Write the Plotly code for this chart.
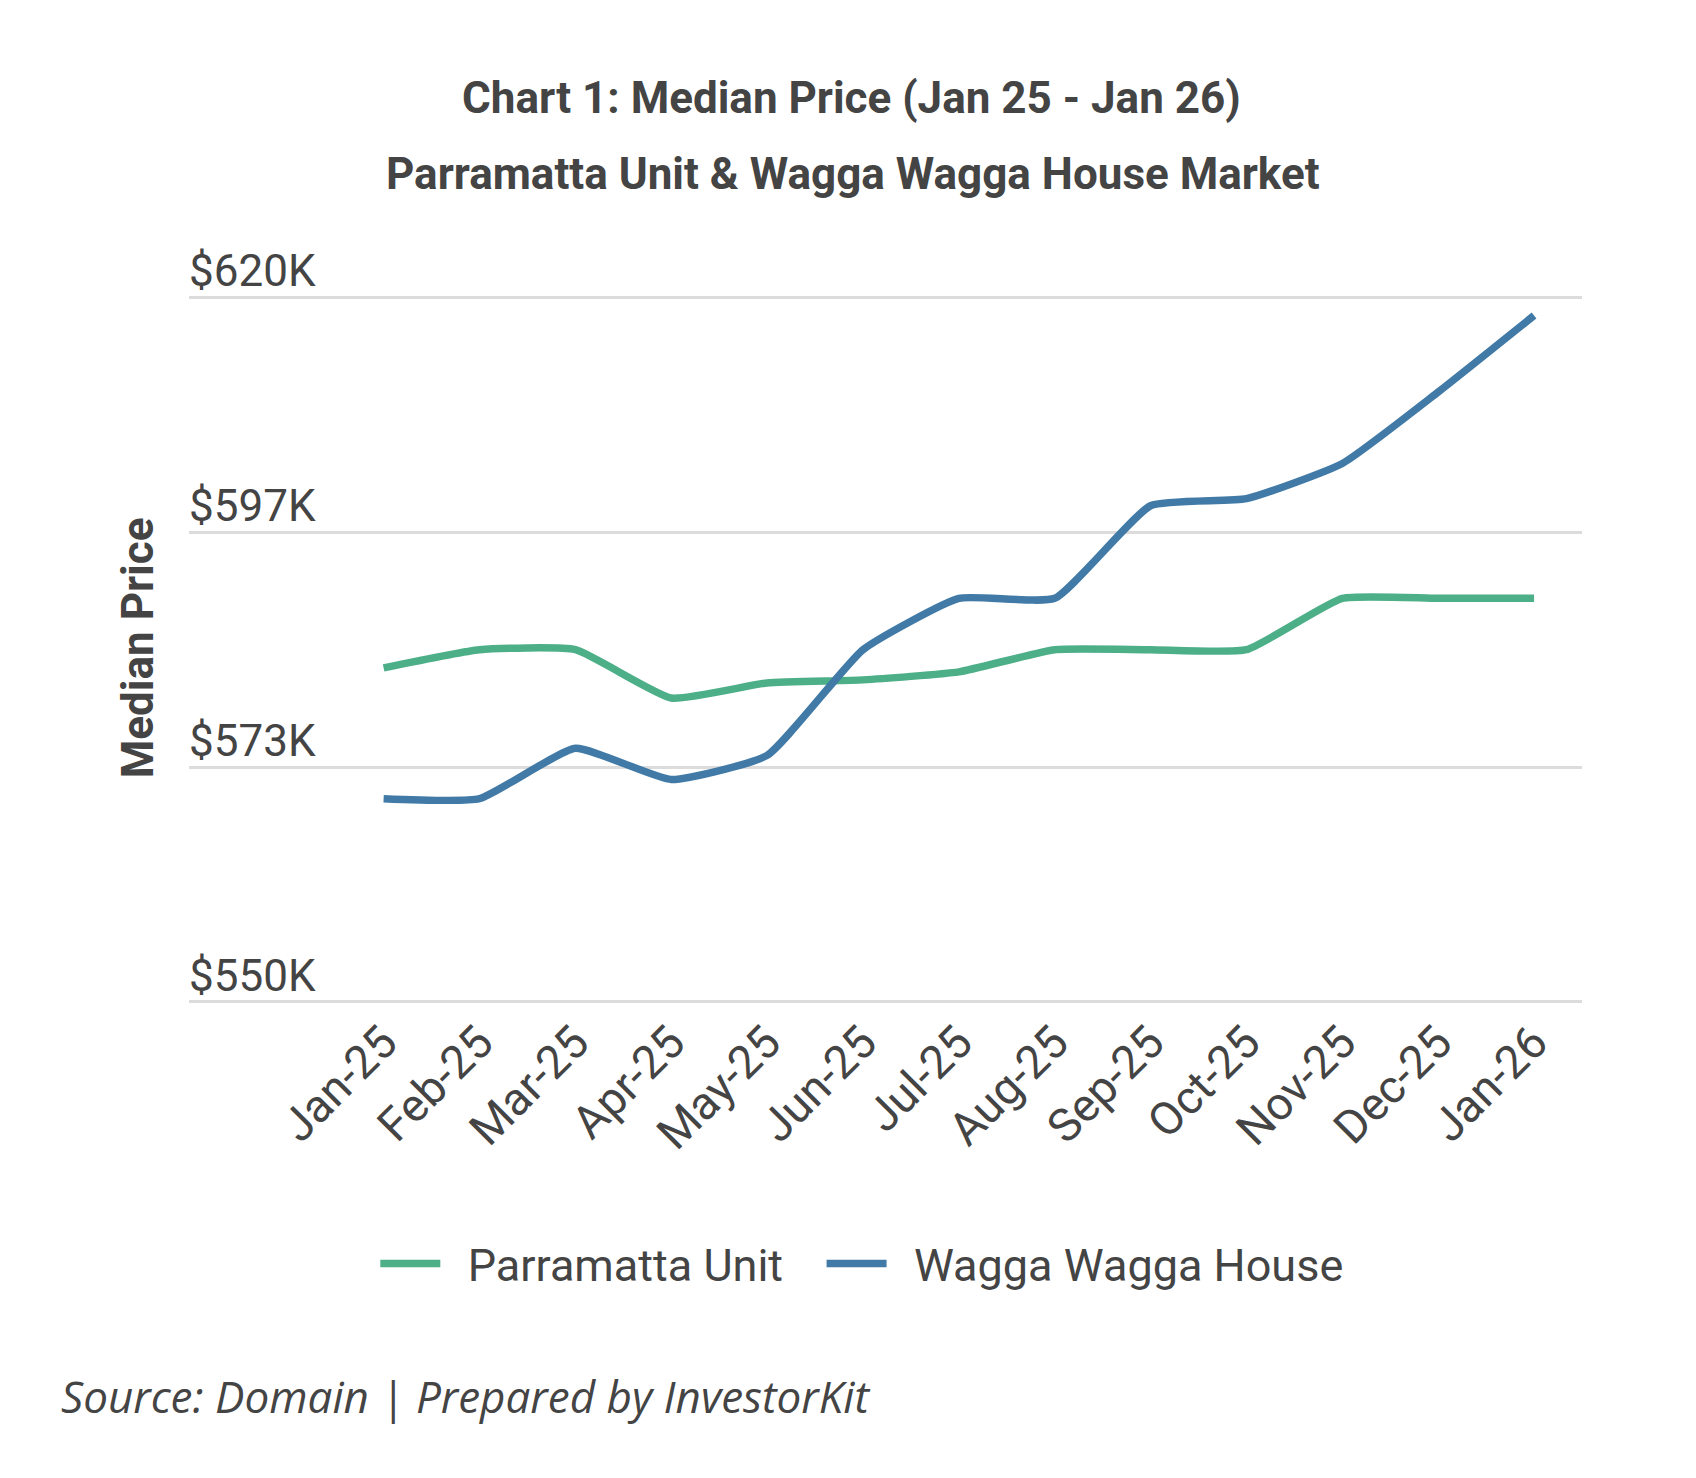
import plotly.graph_objects as go

months = ["Jan-25", "Feb-25", "Mar-25", "Apr-25", "May-25", "Jun-25", "Jul-25",
          "Aug-25", "Sep-25", "Oct-25", "Nov-25", "Dec-25", "Jan-26"]
parramatta_unit = [583.2, 585.0, 585.0, 580.2, 581.7, 582.0, 582.8,
                   585.0, 585.0, 585.0, 590.1, 590.1, 590.1]
wagga_house = [570.2, 570.2, 575.2, 572.1, 574.5, 585.0, 590.1,
               590.1, 599.3, 600.0, 603.5, 610.6, 618.2]
y_tick_vals = [550, 573.333, 596.667, 620]
y_tick_text = ["$550K", "$573K", "$597K", "$620K"]

GREEN = "#4daf88"
BLUE = "#417aa6"
TXT = "#444444"
NB = "\u00a0"

fig = go.Figure()
fig.add_trace(go.Scatter(x=months, y=parramatta_unit, name=NB * 2 + "Parramatta Unit" + NB * 3, mode="lines",
                         line=dict(color=GREEN, width=7.5, shape="spline", smoothing=0.45)))
fig.add_trace(go.Scatter(x=months, y=wagga_house, name=NB * 2 + "Wagga Wagga House", mode="lines",
                         line=dict(color=BLUE, width=7.5, shape="spline", smoothing=0.45)))

fig.update_layout(
    width=1696, height=1478,
    margin=dict(l=189, r=114, t=237, b=473),
    paper_bgcolor="white", plot_bgcolor="white",
    font=dict(family="Roboto", color=TXT, size=44),
    showlegend=True,
    legend=dict(orientation="h", x=0.483, xanchor="center", y=-0.337, yanchor="middle",
                itemwidth=60,
                font=dict(family="Roboto", size=45, color=TXT)),
    title=dict(text="<b>Chart 1: Median Price (Jan 25 - Jan 26)</b>", x=0.502, xref="container",
               xanchor="center", y=0.934, yref="container", yanchor="middle",
               font=dict(family="Roboto", size=44, color=TXT)),
)
fig.add_annotation(text="<b>Parramatta Unit &amp; Wagga Wagga House Market</b>", xref="paper", yref="paper",
                   x=0.477, y=1 + (237 - 174) / 767.6, xanchor="center", yanchor="middle",
                   showarrow=False, font=dict(family="Roboto", size=44, color=TXT))
fig.add_annotation(text="<b>Median Price</b>", xref="paper", yref="paper",
                   x=(138 - 189) / 1393, y=(1004.6 - 648) / 767.6, xanchor="center", yanchor="middle",
                   textangle=-90, showarrow=False, font=dict(family="Roboto", size=44, color=TXT))
fig.add_annotation(text="<i>Source: Domain | Prepared by InvestorKit</i>", xref="paper", yref="paper",
                   x=(59 - 189) / 1393, y=(237 + 767.6 - 1395) / 767.6, xanchor="left", yanchor="middle",
                   showarrow=False, font=dict(family="Open Sans", size=44, color=TXT))

fig.update_xaxes(type="category", range=[-2.03, 12.5], showgrid=False, showline=False, zeroline=False,
                 ticks="", tickangle=-45, tickfont=dict(family="Roboto", size=46, color=TXT))
fig.update_yaxes(range=[549.7, 626], tickvals=y_tick_vals, ticktext=y_tick_text,
                 showgrid=True, gridcolor="#dcdcdc", gridwidth=3, zeroline=False, showline=False,
                 ticks="", ticklabelposition="inside top", ticklabelshift=4, ticklabelstandoff=-3,
                 tickfont=dict(family="Roboto", size=44, color=TXT))

fig.write_html("out.html")
